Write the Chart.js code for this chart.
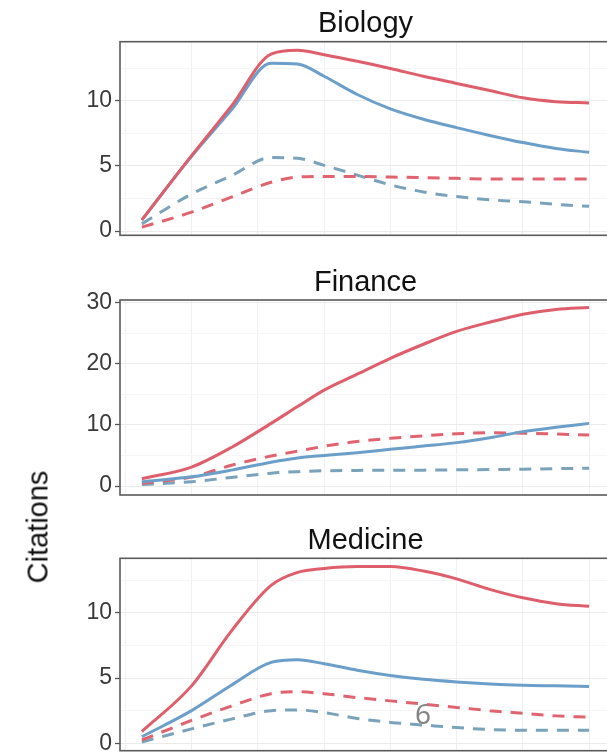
<!DOCTYPE html>
<html>
<head>
<meta charset="utf-8">
<script src="https://cdn.jsdelivr.net/npm/chart.js@4.4.1/dist/chart.umd.min.js"></script>
<style>
  html, body { margin: 0; padding: 0; background: #fff; width: 607px; height: 754px; overflow: hidden; }
  .panel { position: absolute; left: 0; }
  #ylab {
    position: absolute; left: 38px; top: 527px;
    transform: translate(-50%, -50%) rotate(-90deg);
    font: 29px "Liberation Sans", Arial, sans-serif; color: #111; white-space: nowrap; line-height: 1;
  }
  #pageno {
    position: absolute; left: 423px; top: 713px;
    transform: translate(-50%, -50%);
    font: 28px "Noto Sans", sans-serif; color: #858585; line-height: 1; z-index: 5;
  }
</style>
</head>
<body>
<div class="panel" style="top:0px"><canvas id="bio" width="620" height="240"></canvas></div>
<div class="panel" style="top:250px"><canvas id="fin" width="620" height="250"></canvas></div>
<div class="panel" style="top:505px"><canvas id="med" width="620" height="249"></canvas></div>
<div id="ylab">Citations</div>
<div id="pageno">6</div>

<script>
// Time since publication (years), shared by every curve
const years = [0.25, 1, 1.6, 2.2, 2.6, 3, 3.5, 4, 4.5, 5, 5.5, 6, 6.5, 7];

// Biology
const bioRedSolid   = [0.85, 5.8, 9.6, 13.6, 13.9, 13.55, 13.05, 12.5, 11.9, 11.35, 10.8, 10.25, 9.95, 9.85];
const bioBlueSolid  = [0.85, 5.75, 9.3, 12.9, 12.85, 11.9, 10.5, 9.4, 8.6, 7.95, 7.35, 6.8, 6.35, 6.05];
const bioRedDashed  = [0.3, 1.45, 2.6, 3.75, 4.15, 4.2, 4.2, 4.15, 4.1, 4.05, 4.0, 4.0, 4.0, 4.0];
const bioBlueDashed = [0.55, 2.85, 4.25, 5.65, 5.6, 5.05, 4.3, 3.55, 3.0, 2.65, 2.4, 2.25, 2.05, 1.9];

// Finance
const finRedSolid   = [1.2, 3.1, 6.3, 10.25, 13.0, 15.7, 18.3, 20.9, 23.2, 25.3, 26.8, 28.1, 28.9, 29.2];
const finBlueSolid  = [0.7, 1.5, 2.6, 3.9, 4.6, 5.0, 5.45, 6.0, 6.55, 7.1, 7.9, 8.9, 9.6, 10.25];
const finRedDashed  = [0.45, 1.45, 3.4, 4.9, 5.7, 6.5, 7.3, 7.8, 8.2, 8.55, 8.7, 8.65, 8.5, 8.35];
const finBlueDashed = [0.25, 0.7, 1.4, 2.1, 2.35, 2.5, 2.55, 2.6, 2.6, 2.65, 2.7, 2.75, 2.85, 2.9];

// Medicine
const medRedSolid   = [0.9, 4.4, 8.6, 12.1, 13.1, 13.4, 13.55, 13.55, 13.2, 12.6, 11.8, 11.15, 10.7, 10.5];
const medBlueSolid  = [0.5, 2.5, 4.45, 6.2, 6.4, 6.1, 5.6, 5.2, 4.9, 4.7, 4.55, 4.45, 4.4, 4.35];
const medRedDashed  = [0.25, 1.75, 2.85, 3.8, 3.95, 3.8, 3.5, 3.25, 3.0, 2.75, 2.5, 2.3, 2.1, 2.0];
const medBlueDashed = [0.1, 1.1, 1.85, 2.5, 2.55, 2.35, 1.9, 1.6, 1.4, 1.2, 1.05, 1.0, 1.0, 1.0];

// Axis ticks
const xGridYears   = [0, 1, 2, 3, 4, 5, 6, 7];
const smallYTicks  = [0, 2.5, 5, 7.5, 10, 12.5];
const smallYLabels = [0, 5, 10];
const finYTicks    = [0, 5, 10, 15, 20, 25, 30];
const finYLabels   = [0, 10, 20, 30];

const RED = '#de5f6b';
const BLUE = '#6b9fc9';
const RED_DASH = '#e0636f';
const BLUE_DASH = '#7aa2bb';
const FONT = '"Liberation Sans", Arial, Helvetica, sans-serif';

const pts = vals => vals.map((v, i) => ({ x: years[i], y: v }));

// Panel frame and centred title
const framePlugin = {
  id: 'frame',
  afterDraw(chart, args, opts) {
    const { ctx, chartArea: a } = chart;
    ctx.save();
    ctx.strokeStyle = '#5b5b5b';
    ctx.lineWidth = 1.6;
    ctx.strokeRect(a.left, a.top, a.right - a.left, a.bottom - a.top);
    ctx.fillStyle = '#111';
    ctx.font = '29px ' + FONT;
    ctx.textAlign = 'center';
    ctx.textBaseline = 'alphabetic';
    ctx.fillText(opts.text, (a.left + a.right) / 2, a.top - 9.5);
    ctx.restore();
  }
};

function makePanel(id, title, series, yMin, yMax, yTicks, yLabels, padTop, padBottom) {
  const isMajor = v => yLabels.includes(v);
  return new Chart(document.getElementById(id), {
    type: 'line',
    data: {
      datasets: [
        { data: pts(series[0]), borderColor: RED, borderWidth: 3 },
        { data: pts(series[1]), borderColor: BLUE, borderWidth: 3 },
        { data: pts(series[2]), borderColor: RED_DASH, borderWidth: 3, borderDash: [12, 9] },
        { data: pts(series[3]), borderColor: BLUE_DASH, borderWidth: 3, borderDash: [12, 9] }
      ]
    },
    options: {
      responsive: false,
      animation: false,
      devicePixelRatio: 1,
      layout: { padding: { top: padTop, bottom: padBottom, left: 0, right: 9 } },
      elements: {
        point: { radius: 0 },
        line: { cubicInterpolationMode: 'monotone', borderJoinStyle: 'round', borderCapStyle: 'butt', fill: false }
      },
      plugins: {
        legend: { display: false },
        tooltip: { enabled: false },
        frame: { text: title }
      },
      scales: {
        x: {
          type: 'linear', min: -0.08, max: 7.33,
          ticks: { display: false },
          grid: { color: '#f0f0f0', lineWidth: 1, drawTicks: false },
          border: { display: false },
          afterBuildTicks: s => { s.ticks = xGridYears.map(v => ({ value: v })); },
          afterFit: s => { s.height = 0; s.paddingLeft = 0; s.paddingRight = 0; }
        },
        y: {
          type: 'linear', min: yMin, max: yMax,
          afterBuildTicks: s => { s.ticks = yTicks.map(v => ({ value: v })); },
          afterFit: s => { s.width = 120; s.paddingTop = 0; s.paddingBottom = 0; },
          ticks: {
            autoSkip: false, padding: 3, color: '#3a3a3a',
            font: { size: 23, family: FONT },
            callback: v => (isMajor(v) ? String(v) : '')
          },
          grid: {
            lineWidth: 1,
            color: c => (c.tick && isMajor(c.tick.value) ? '#ebebeb' : '#f5f5f5'),
            tickColor: c => (c.tick && isMajor(c.tick.value) ? '#555' : 'rgba(0,0,0,0)'),
            tickLength: 5, tickWidth: 1.3
          },
          border: { display: false }
        }
      }
    },
    plugins: [framePlugin]
  });
}

makePanel('bio', 'Biology', [bioRedSolid, bioBlueSolid, bioRedDashed, bioBlueDashed],
  -0.33, 14.56, smallYTicks, smallYLabels, 41.7, 4.7);
makePanel('fin', 'Finance', [finRedSolid, finBlueSolid, finRedDashed, finBlueDashed],
  -1.47, 30.44, finYTicks, finYLabels, 50, 5);
makePanel('med', 'Medicine', [medRedSolid, medBlueSolid, medRedDashed, medBlueDashed],
  -0.57, 14.18, smallYTicks, smallYLabels, 53.3, 3.3);
</script>
</body>
</html>
